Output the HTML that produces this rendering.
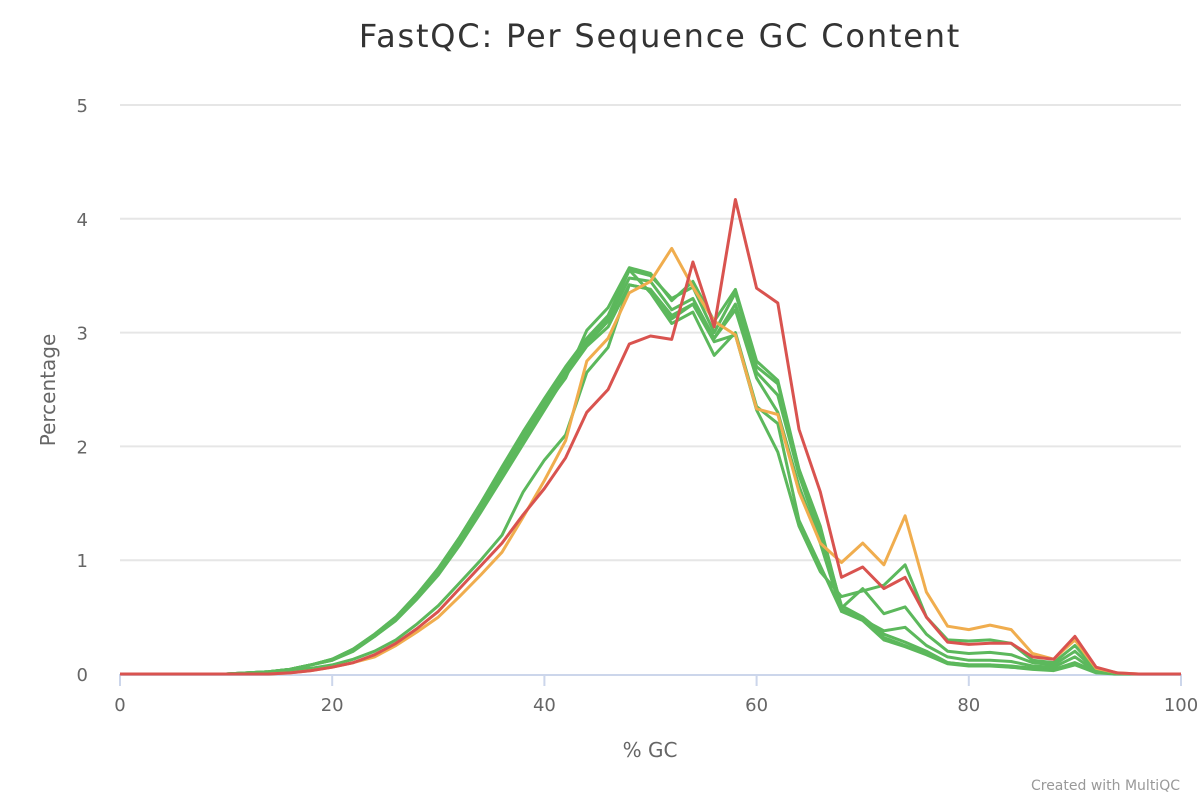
<!DOCTYPE html>
<html><head><meta charset="utf-8"><style>
html,body{margin:0;padding:0;background:#fff;width:1200px;height:800px;overflow:hidden}
svg text{font-family:"DejaVu Sans","Liberation Sans",sans-serif}
</style></head><body>
<svg id="chart" width="1200" height="800" xmlns="http://www.w3.org/2000/svg">
<text x="660" y="47" text-anchor="middle" font-size="32" letter-spacing="1.8" fill="#333">FastQC: Per Sequence GC Content</text>
<g id="grid"></g>
<g id="yticks"></g>
<g id="xaxis"></g>
<g id="series"></g>
<text transform="translate(55,390) rotate(-90)" text-anchor="middle" font-size="20" fill="#666">Percentage</text>
<text x="650" y="757" text-anchor="middle" font-size="20" fill="#666">% GC</text>
<text x="1180" y="790" text-anchor="end" font-size="14" fill="#999">Created with MultiQC</text>
</svg>
<script>
const gcValues = [0,2,4,6,8,10,12,14,16,18,20,22,24,26,28,30,32,34,36,38,40,42,44,46,48,50,52,54,56,58,60,62,64,66,68,70,72,74,76,78,80,82,84,86,88,90,92,94,96,98,100];
const yTicks = [0,1,2,3,4,5];
const xTicks = [0,20,40,60,80,100];
const greenA1 = [0,0,0,0,0,0,0.01,0.02,0.04,0.08,0.13,0.22,0.35,0.5,0.7,0.93,1.2,1.5,1.82,2.13,2.42,2.7,2.95,3.15,3.55,3.5,3.3,3.4,3.0,3.35,2.7,2.55,1.8,1.25,0.6,0.5,0.35,0.28,0.2,0.1,0.08,0.08,0.07,0.05,0.04,0.1,0.02,0,0,0,0];
const greenA2 = [0,0,0,0,0,0,0.01,0.02,0.04,0.08,0.13,0.21,0.34,0.48,0.68,0.9,1.17,1.46,1.78,2.08,2.37,2.65,2.9,3.1,3.48,3.45,3.2,3.3,2.95,3.25,2.65,2.45,1.75,1.2,0.57,0.48,0.32,0.25,0.18,0.1,0.08,0.08,0.06,0.05,0.04,0.09,0.02,0,0,0,0];
const greenA3 = [0,0,0,0,0,0,0.01,0.02,0.04,0.08,0.12,0.2,0.33,0.47,0.66,0.87,1.13,1.42,1.72,2.02,2.32,2.62,2.88,3.05,3.42,3.38,3.12,3.25,2.95,3.2,2.6,2.3,1.65,1.15,0.55,0.47,0.3,0.24,0.17,0.09,0.07,0.07,0.06,0.04,0.03,0.08,0.01,0,0,0,0];
const greenA4 = [0,0,0,0,0,0,0.01,0.02,0.04,0.08,0.13,0.22,0.35,0.5,0.7,0.92,1.2,1.5,1.8,2.1,2.38,2.68,2.92,3.12,3.55,3.35,3.08,3.18,2.8,3.0,2.35,2.2,1.35,0.95,0.55,0.48,0.38,0.41,0.25,0.15,0.12,0.12,0.11,0.07,0.06,0.15,0.02,0,0,0,0];
const greenA5 = [0,0,0,0,0,0,0.01,0.02,0.04,0.08,0.12,0.21,0.33,0.48,0.68,0.88,1.15,1.45,1.75,2.05,2.35,2.6,3.02,3.22,3.57,3.52,3.28,3.45,3.1,3.38,2.75,2.58,1.8,1.3,0.58,0.75,0.53,0.59,0.35,0.2,0.18,0.19,0.17,0.1,0.08,0.2,0.03,0,0,0,0];
const greenB1 = [0,0,0,0,0,0,0,0.01,0.03,0.05,0.08,0.13,0.2,0.3,0.44,0.6,0.8,1.0,1.22,1.6,1.88,2.1,2.65,2.87,3.42,3.38,3.15,3.25,2.92,2.98,2.32,1.95,1.3,0.9,0.68,0.73,0.78,0.96,0.5,0.3,0.29,0.3,0.27,0.12,0.1,0.25,0.04,0,0,0,0];
const redSample = [0,0,0,0,0,0,0,0,0.01,0.03,0.06,0.1,0.17,0.27,0.4,0.55,0.75,0.95,1.15,1.4,1.63,1.9,2.3,2.5,2.9,2.97,2.94,3.62,3.05,4.17,3.39,3.26,2.15,1.6,0.85,0.94,0.75,0.85,0.5,0.28,0.26,0.27,0.27,0.15,0.13,0.33,0.06,0.01,0,0,0];
const orangeSample = [0,0,0,0,0,0,0,0,0.01,0.03,0.06,0.1,0.15,0.25,0.37,0.5,0.68,0.87,1.07,1.38,1.7,2.05,2.75,2.95,3.35,3.45,3.74,3.4,3.1,2.98,2.33,2.28,1.6,1.15,0.98,1.15,0.96,1.39,0.72,0.42,0.39,0.43,0.39,0.18,0.13,0.3,0.05,0.01,0,0,0];
const seriesList = [greenA1,greenA2,greenA3,greenA4,greenA5,greenB1,orangeSample,redSample];
const seriesNames = ['sample-1-line','sample-2-line','sample-3-line','sample-4-line','sample-5-line','sample-6-line','sample-warn-line','sample-fail-line'];
const seriesColors = ['#5cb85c','#5cb85c','#5cb85c','#5cb85c','#5cb85c','#5cb85c','#f0ad4e','#d9534f'];

const NS='http://www.w3.org/2000/svg';
const X0=120,X1=1181,Y0=674,Y1=105,YMAX=5;
const xs=v=>X0+(X1-X0)*v/100;
const ys=v=>Y0-(Y0-Y1)*v/YMAX;
function mk(tag,attrs,parent){const e=document.createElementNS(NS,tag);for(const k in attrs)e.setAttribute(k,attrs[k]);parent.appendChild(e);return e;}
const grid=document.getElementById('grid'),yt=document.getElementById('yticks'),xa=document.getElementById('xaxis'),sg=document.getElementById('series');
yTicks.forEach(t=>{
  if(t>0){const l=mk('line',{x1:X0,x2:X1,y1:ys(t),y2:ys(t),stroke:'#e6e6e6','stroke-width':2},grid);
  
  }
  const tx=mk('text',{x:88,y:ys(t)+7,'text-anchor':'end','font-size':18,fill:'#666'},yt);
  tx.textContent=t;
  
  
});
const ax=mk('line',{x1:X0,x2:X1,y1:Y0+1,y2:Y0+1,stroke:'#ccd6eb','stroke-width':2},xa);


xTicks.forEach(t=>{
  const tk=mk('line',{x1:xs(t),x2:xs(t),y1:Y0,y2:Y0+12,stroke:'#ccd6eb','stroke-width':2},xa);
  
  
  const tx=mk('text',{x:xs(t),y:711,'text-anchor':'middle','font-size':18,fill:'#666'},xa);
  tx.textContent=t;
  
  
});
seriesList.forEach((s,i)=>{
  const pts=s.map((v,j)=>xs(gcValues[j]).toFixed(1)+','+ys(v).toFixed(1)).join(' ');
  const p=mk('polyline',{points:pts,fill:'none',stroke:seriesColors[i],'stroke-width':3,'stroke-linejoin':'round'},sg);
  
  
});
</script>
</body></html>
